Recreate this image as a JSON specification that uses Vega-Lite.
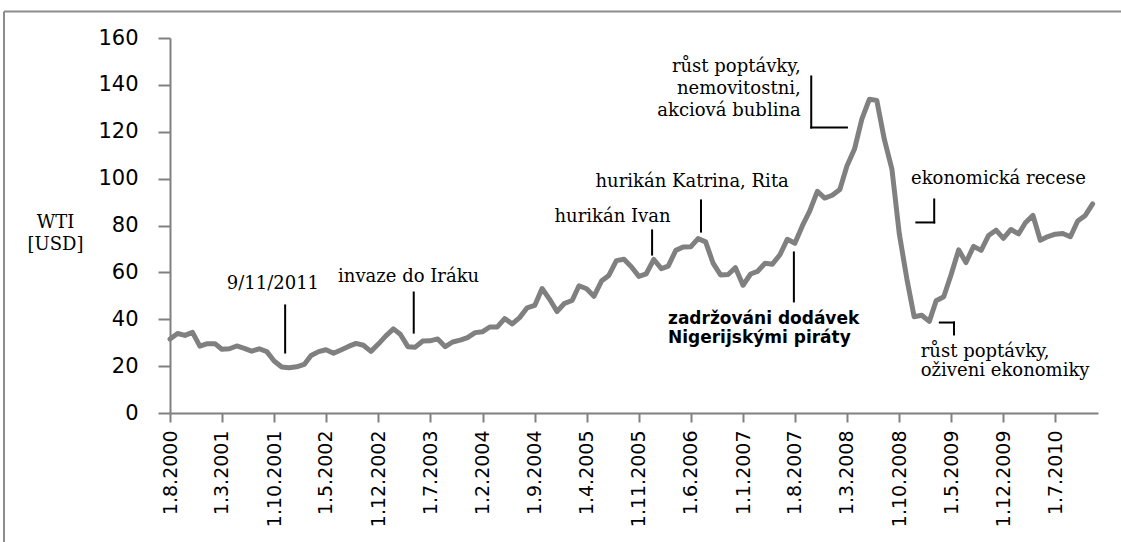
{
  "$schema": "https://vega.github.io/schema/vega-lite/v6.json",
  "width": 928,
  "height": 375,
  "autosize": {"type": "none"},
  "padding": {"left": 170, "top": 38, "right": 23, "bottom": 129},
  "background": "white",
  "config": {"view": {"stroke": null}},
  "datasets": {
    "wti": [
      {"date":"2000-08-01","value":31.6},{"date":"2000-09-01","value":33.9},{"date":"2000-10-01","value":33.1},{"date":"2000-11-01","value":34.4},{"date":"2000-12-01","value":28.5},
      {"date":"2001-01-01","value":29.6},{"date":"2001-02-01","value":29.6},{"date":"2001-03-01","value":27.2},{"date":"2001-04-01","value":27.4},{"date":"2001-05-01","value":28.6},{"date":"2001-06-01","value":27.6},{"date":"2001-07-01","value":26.4},{"date":"2001-08-01","value":27.4},{"date":"2001-09-01","value":26.2},{"date":"2001-10-01","value":22.2},{"date":"2001-11-01","value":19.6},{"date":"2001-12-01","value":19.3},
      {"date":"2002-01-01","value":19.7},{"date":"2002-02-01","value":20.7},{"date":"2002-03-01","value":24.5},{"date":"2002-04-01","value":26.2},{"date":"2002-05-01","value":27.0},{"date":"2002-06-01","value":25.5},{"date":"2002-07-01","value":26.9},{"date":"2002-08-01","value":28.4},{"date":"2002-09-01","value":29.7},{"date":"2002-10-01","value":28.9},{"date":"2002-11-01","value":26.3},{"date":"2002-12-01","value":29.4},
      {"date":"2003-01-01","value":32.9},{"date":"2003-02-01","value":35.9},{"date":"2003-03-01","value":33.6},{"date":"2003-04-01","value":28.3},{"date":"2003-05-01","value":28.1},{"date":"2003-06-01","value":30.7},{"date":"2003-07-01","value":30.8},{"date":"2003-08-01","value":31.6},{"date":"2003-09-01","value":28.3},{"date":"2003-10-01","value":30.3},{"date":"2003-11-01","value":31.1},{"date":"2003-12-01","value":32.2},
      {"date":"2004-01-01","value":34.3},{"date":"2004-02-01","value":34.7},{"date":"2004-03-01","value":36.7},{"date":"2004-04-01","value":36.7},{"date":"2004-05-01","value":40.3},{"date":"2004-06-01","value":38.0},{"date":"2004-07-01","value":40.7},{"date":"2004-08-01","value":44.9},{"date":"2004-09-01","value":45.9},{"date":"2004-10-01","value":53.1},{"date":"2004-11-01","value":48.5},{"date":"2004-12-01","value":43.3},
      {"date":"2005-01-01","value":46.8},{"date":"2005-02-01","value":48.0},{"date":"2005-03-01","value":54.3},{"date":"2005-04-01","value":53.0},{"date":"2005-05-01","value":49.8},{"date":"2005-06-01","value":56.3},{"date":"2005-07-01","value":58.7},{"date":"2005-08-01","value":65.0},{"date":"2005-09-01","value":65.6},{"date":"2005-10-01","value":62.4},{"date":"2005-11-01","value":58.3},{"date":"2005-12-01","value":59.4},
      {"date":"2006-01-01","value":65.5},{"date":"2006-02-01","value":61.6},{"date":"2006-03-01","value":62.7},{"date":"2006-04-01","value":69.4},{"date":"2006-05-01","value":70.8},{"date":"2006-06-01","value":70.9},{"date":"2006-07-01","value":74.4},{"date":"2006-08-01","value":73.0},{"date":"2006-09-01","value":63.8},{"date":"2006-10-01","value":58.9},{"date":"2006-11-01","value":59.1},{"date":"2006-12-01","value":62.0},
      {"date":"2007-01-01","value":54.5},{"date":"2007-02-01","value":59.3},{"date":"2007-03-01","value":60.4},{"date":"2007-04-01","value":63.9},{"date":"2007-05-01","value":63.5},{"date":"2007-06-01","value":67.5},{"date":"2007-07-01","value":74.1},{"date":"2007-08-01","value":72.4},{"date":"2007-09-01","value":79.9},{"date":"2007-10-01","value":86.2},{"date":"2007-11-01","value":94.6},{"date":"2007-12-01","value":91.7},
      {"date":"2008-01-01","value":92.9},{"date":"2008-02-01","value":95.4},{"date":"2008-03-01","value":105.4},{"date":"2008-04-01","value":112.6},{"date":"2008-05-01","value":125.4},{"date":"2008-06-01","value":133.9},{"date":"2008-07-01","value":133.4},{"date":"2008-08-01","value":116.7},{"date":"2008-09-01","value":104.1},{"date":"2008-10-01","value":76.6},{"date":"2008-11-01","value":57.3},{"date":"2008-12-01","value":41.1},
      {"date":"2009-01-01","value":41.7},{"date":"2009-02-01","value":39.1},{"date":"2009-03-01","value":47.9},{"date":"2009-04-01","value":49.6},{"date":"2009-05-01","value":59.0},{"date":"2009-06-01","value":69.6},{"date":"2009-07-01","value":64.2},{"date":"2009-08-01","value":71.1},{"date":"2009-09-01","value":69.4},{"date":"2009-10-01","value":75.7},{"date":"2009-11-01","value":78.0},{"date":"2009-12-01","value":74.5},
      {"date":"2010-01-01","value":78.3},{"date":"2010-02-01","value":76.4},{"date":"2010-03-01","value":81.2},{"date":"2010-04-01","value":84.3},{"date":"2010-05-01","value":73.7},{"date":"2010-06-01","value":75.3},{"date":"2010-07-01","value":76.3},{"date":"2010-08-01","value":76.6},{"date":"2010-09-01","value":75.2},{"date":"2010-10-01","value":81.9},{"date":"2010-11-01","value":84.3},{"date":"2010-12-01","value":89.2}
    ],
    "rules": [
      {"date":"2001-11-15","date2":"2001-11-15","value":45.9,"value2":25.8},
      {"date":"2003-04-25","date2":"2003-04-25","value":51.4,"value2":34.3},
      {"date":"2005-12-25","date2":"2005-12-25","value":77.9,"value2":67.6},
      {"date":"2006-07-13","date2":"2006-07-13","value":90.7,"value2":77.4},
      {"date":"2007-10-07","date2":"2007-10-07","value":143.6,"value2":121.8},
      {"date":"2007-10-07","date2":"2008-03-01","value":121.8,"value2":121.8},
      {"date":"2007-07-28","date2":"2007-07-28","value":68.5,"value2":47.6},
      {"date":"2009-02-21","date2":"2009-02-21","value":91.1,"value2":81.3},
      {"date":"2008-12-10","date2":"2009-02-21","value":81.3,"value2":81.3},
      {"date":"2009-03-16","date2":"2009-05-13","value":38.6,"value2":38.6},
      {"date":"2009-05-13","date2":"2009-05-13","value":38.6,"value2":33.5}
    ],
    "notes": [
      {"grp":"c","date":"2001-09-26","value":52.7,"label":"9/11/2011"},
      {"grp":"c","date":"2003-04-04","value":55.7,"label":"invaze do Iráku"},
      {"grp":"c","date":"2005-07-16","value":81.7,"label":"hurikán Ivan"},
      {"grp":"c","date":"2006-06-07","value":96.6,"label":"hurikán Katrina, Rita"},
      {"grp":"r","date":"2007-08-25","value":145.7,"label":"růst poptávky,"},
      {"grp":"r","date":"2007-08-25","value":136.3,"label":"nemovitostni,"},
      {"grp":"r","date":"2007-08-25","value":126.9,"label":"akciová bublina"},
      {"grp":"l","date":"2008-11-18","value":97.5,"label":"ekonomická recese"},
      {"grp":"l","date":"2008-12-28","value":24.1,"label":"růst poptávky,"},
      {"grp":"l","date":"2008-12-28","value":15.6,"label":"oživeni ekonomiky"},
      {"grp":"s","date":"2006-02-28","value":37.8,"label":"zadržováni dodávek"},
      {"grp":"s","date":"2006-02-28","value":29.9,"label":"Nigerijskými piráty"}
    ],
    "frame": [
      {"date":"1998-09-22","date2":"2013-06-01","value":171.3,"value2":171.3},
      {"date":"1998-09-22","date2":"1998-09-22","value":171.3,"value2":-60}
    ]
  },
  "encoding": {
    "x": {
      "field": "date",
      "type": "temporal",
      "scale": {
        "type": "utc",
        "domain": [
          {"year": 2000, "month": 8, "date": 1, "utc": true},
          {"year": 2010, "month": 12, "date": 23, "utc": true}
        ]
      },
      "axis": {
        "values": [
          {"year":2000,"month":8,"date":1,"utc":true},
          {"year":2001,"month":3,"date":1,"utc":true},
          {"year":2001,"month":10,"date":1,"utc":true},
          {"year":2002,"month":5,"date":1,"utc":true},
          {"year":2002,"month":12,"date":1,"utc":true},
          {"year":2003,"month":7,"date":1,"utc":true},
          {"year":2004,"month":2,"date":1,"utc":true},
          {"year":2004,"month":9,"date":1,"utc":true},
          {"year":2005,"month":4,"date":1,"utc":true},
          {"year":2005,"month":11,"date":1,"utc":true},
          {"year":2006,"month":6,"date":1,"utc":true},
          {"year":2007,"month":1,"date":1,"utc":true},
          {"year":2007,"month":8,"date":1,"utc":true},
          {"year":2008,"month":3,"date":1,"utc":true},
          {"year":2008,"month":10,"date":1,"utc":true},
          {"year":2009,"month":5,"date":1,"utc":true},
          {"year":2009,"month":12,"date":1,"utc":true},
          {"year":2010,"month":7,"date":1,"utc":true}
        ],
        "labelExpr": "utcFormat(datum.value, '%-d.%-m.%Y')",
        "labelAngle": 270,
        "labelFont": "DejaVu Sans",
        "labelFontSize": 19,
        "labelColor": "#000000",
        "labelPadding": 8,
        "labelOverlap": false,
        "labelFlush": false,
        "labelBound": false,
        "tickSize": 9,
        "tickColor": "#808080",
        "tickWidth": 2,
        "domainColor": "#808080",
        "domainWidth": 2,
        "grid": false,
        "title": null
      }
    },
    "y": {
      "field": "value",
      "type": "quantitative",
      "scale": {"domain": [0, 160], "nice": false, "zero": false},
      "axis": {
        "values": [0, 20, 40, 60, 80, 100, 120, 140, 160],
        "labelFont": "DejaVu Sans",
        "labelFontSize": 21,
        "labelColor": "#000000",
        "labelPadding": 20,
        "labelFlush": false,
        "tickSize": 12,
        "tickColor": "#808080",
        "tickWidth": 2,
        "domainColor": "#808080",
        "domainWidth": 2,
        "grid": false,
        "title": ["WTI", "[USD]"],
        "titleAngle": 0,
        "titleX": -115,
        "titleY": 189,
        "titleAlign": "center",
        "titleBaseline": "alphabetic",
        "titleFont": "DejaVu Serif",
        "titleFontSize": 18,
        "titleFontWeight": "normal",
        "titleColor": "#000000",
        "titleLineHeight": 22
      }
    }
  },
  "layer": [
    {
      "data": {"name": "frame"},
      "mark": {"type": "rule", "color": "#8c8c8c", "strokeWidth": 2, "clip": false},
      "encoding": {"x2": {"field": "date2"}, "y2": {"field": "value2"}}
    },
    {
      "data": {"name": "wti"},
      "mark": {"type": "line", "color": "#808080", "strokeWidth": 5, "strokeJoin": "round", "strokeCap": "round"}
    },
    {
      "data": {"name": "rules"},
      "mark": {"type": "rule", "color": "#000000", "strokeWidth": 2, "strokeCap": "square"},
      "encoding": {"x2": {"field": "date2"}, "y2": {"field": "value2"}}
    },
    {
      "data": {"name": "notes"},
      "transform": [{"filter": "datum.grp === 'c'"}],
      "mark": {"type": "text", "font": "DejaVu Serif", "fontSize": 18, "color": "#000000", "align": "center", "baseline": "alphabetic"},
      "encoding": {"text": {"field": "label", "type": "nominal"}}
    },
    {
      "data": {"name": "notes"},
      "transform": [{"filter": "datum.grp === 'r'"}],
      "mark": {"type": "text", "font": "DejaVu Serif", "fontSize": 18, "color": "#000000", "align": "right", "baseline": "alphabetic"},
      "encoding": {"text": {"field": "label", "type": "nominal"}}
    },
    {
      "data": {"name": "notes"},
      "transform": [{"filter": "datum.grp === 'l'"}],
      "mark": {"type": "text", "font": "DejaVu Serif", "fontSize": 18, "color": "#000000", "align": "left", "baseline": "alphabetic"},
      "encoding": {"text": {"field": "label", "type": "nominal"}}
    },
    {
      "data": {"name": "notes"},
      "transform": [{"filter": "datum.grp === 's'"}],
      "mark": {"type": "text", "font": "DejaVu Sans", "fontSize": 17, "fontWeight": "bold", "color": "#000000", "align": "left", "baseline": "alphabetic"},
      "encoding": {"text": {"field": "label", "type": "nominal"}}
    }
  ]
}
